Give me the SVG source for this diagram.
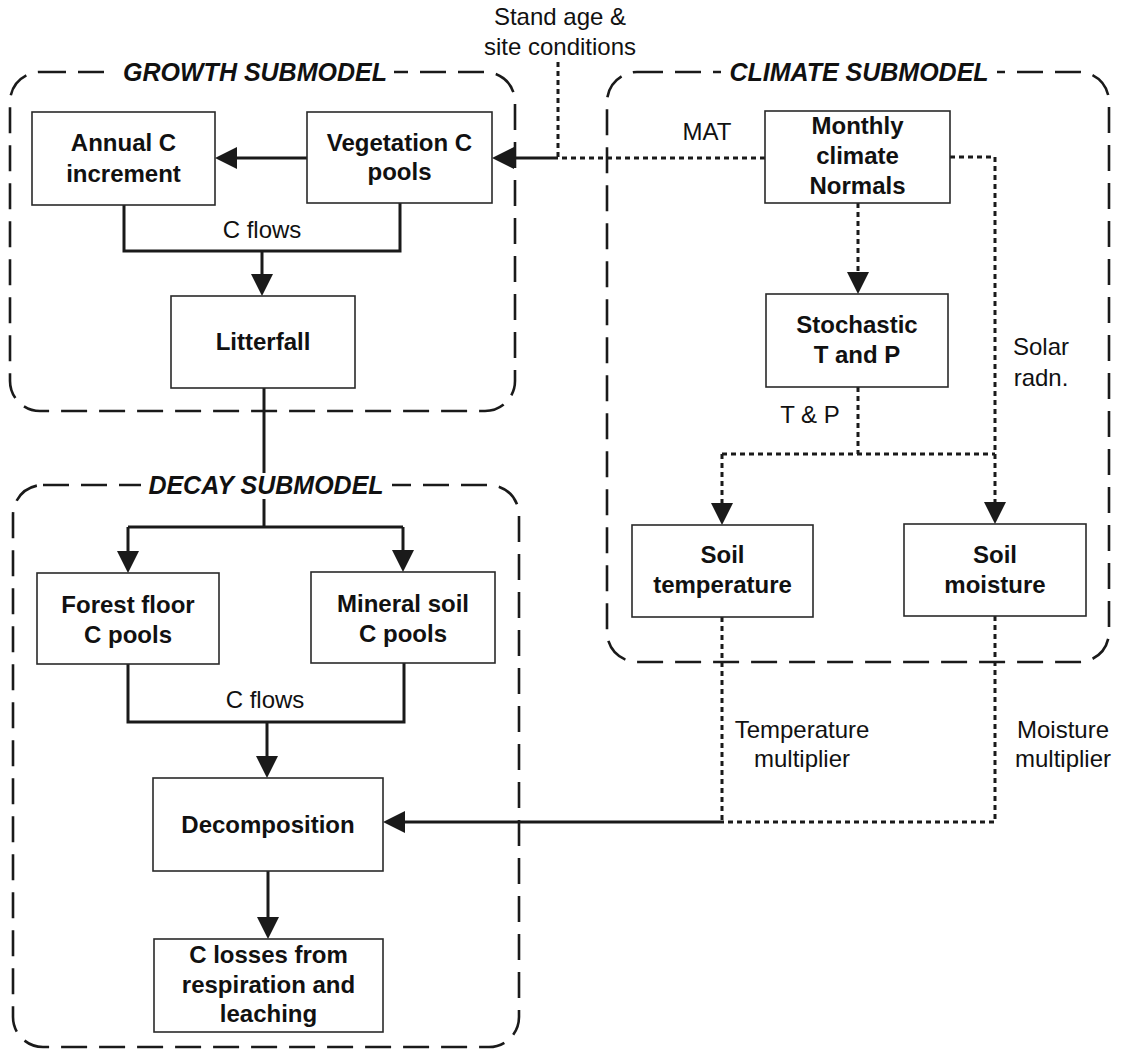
<svg xmlns="http://www.w3.org/2000/svg" width="1131" height="1055" viewBox="0 0 1131 1055">
  <defs>
    <style>
      .frame { fill: none; stroke: #1a1a1a; stroke-width: 2.6; stroke-dasharray: 26 12; }
      .title-bg { fill: #ffffff; }
      .title { font-family: "Liberation Sans", Arial, sans-serif; font-size: 25px; font-weight: bold; font-style: italic; fill: #111; text-anchor: middle; }
      .box { fill: #ffffff; stroke: #2a2a2a; stroke-width: 1.6; }
      .node-text { font-family: "Liberation Sans", Arial, sans-serif; font-size: 24px; font-weight: bold; fill: #111; text-anchor: middle; }
      .label { font-family: "Liberation Sans", Arial, sans-serif; font-size: 24px; fill: #111; text-anchor: middle; }
      .solid { fill: none; stroke: #1a1a1a; stroke-width: 3; }
      .dotted { fill: none; stroke: #1a1a1a; stroke-width: 3; stroke-dasharray: 5 4; }
    </style>
    <marker id="arrow" markerUnits="userSpaceOnUse" markerWidth="24" markerHeight="24" refX="11" refY="11" orient="auto">
      <path d="M0,0 L22,11 L0,22 Z" fill="#1a1a1a"/>
    </marker>
  </defs>

  <rect width="1131" height="1055" fill="#ffffff"/>

  <!-- Submodel frames -->
  <g id="frames">
    <rect id="growth-frame" class="frame" x="10" y="72" width="505" height="339" rx="30"/>
    <rect id="decay-frame" class="frame" x="13" y="485" width="506" height="562" rx="30"/>
    <rect id="climate-frame" class="frame" x="607" y="72" width="502" height="590" rx="30"/>
  </g>

  <!-- Connectors -->
  <g id="connectors">
    <!-- growth -->
    <path class="solid" d="M307 158 H226" marker-end="url(#arrow)"/>
    <path class="solid" d="M124 205 V251 H400 V203"/>
    <path class="solid" d="M262 251 V285" marker-end="url(#arrow)"/>
    <!-- litterfall into decay -->
    <path class="solid" d="M264 388 V527"/>
    <path class="solid" d="M128 527 H403"/>
    <path class="solid" d="M128 527 V562" marker-end="url(#arrow)"/>
    <path class="solid" d="M403 527 V561" marker-end="url(#arrow)"/>
    <!-- decay -->
    <path class="solid" d="M128 664 V722 H404 V663"/>
    <path class="solid" d="M267 722 V767" marker-end="url(#arrow)"/>
    <path class="solid" d="M268 871 V928" marker-end="url(#arrow)"/>
    <!-- multipliers into decomposition -->
    <path class="solid" d="M722 822 H394" marker-end="url(#arrow)"/>
    <path class="dotted" d="M722 617 V822"/>
    <path class="dotted" d="M995 616 V822 H722"/>
    <!-- stand age, MAT into vegetation pools -->
    <path class="dotted" d="M558 62 V158"/>
    <path class="dotted" d="M765 158 H558"/>
    <path class="solid" d="M558 158 H503" marker-end="url(#arrow)"/>
    <!-- climate -->
    <path class="dotted" d="M858 203 V283" marker-end="url(#arrow)"/>
    <path class="dotted" d="M950 157 H995 V513" marker-end="url(#arrow)"/>
    <path class="dotted" d="M858 387 V454"/>
    <path class="dotted" d="M722 454 H995"/>
    <path class="dotted" d="M722 454 V514" marker-end="url(#arrow)"/>
  </g>

  <!-- Connector labels -->
  <g id="labels">
    <text class="label" x="560" y="25">Stand age &amp;</text>
    <text class="label" x="560" y="55">site conditions</text>
    <text class="label" x="707" y="140">MAT</text>
    <text class="label" x="262" y="238">C flows</text>
    <text class="label" x="265" y="708">C flows</text>
    <text class="label" x="810" y="423">T &amp; P</text>
    <text class="label" x="1041" y="355">Solar</text>
    <text class="label" x="1041" y="386">radn.</text>
    <text class="label" x="802" y="738">Temperature</text>
    <text class="label" x="802" y="767">multiplier</text>
    <text class="label" x="1063" y="738">Moisture</text>
    <text class="label" x="1063" y="767">multiplier</text>
  </g>

  <!-- Submodel titles -->
  <g id="growth-title">
    <rect class="title-bg" x="116" y="60" width="278" height="26"/>
    <text class="title" x="255" y="81">GROWTH SUBMODEL</text>
  </g>
  <g id="decay-title">
    <rect class="title-bg" x="141" y="473" width="251" height="26"/>
    <text class="title" x="266" y="494">DECAY SUBMODEL</text>
  </g>
  <g id="climate-title">
    <rect class="title-bg" x="721" y="60" width="276" height="26"/>
    <text class="title" x="859" y="81">CLIMATE SUBMODEL</text>
  </g>

  <!-- Nodes -->
  <g id="annual-increment">
    <rect class="box" x="32" y="112" width="183" height="93"/>
    <text class="node-text" x="123.5" y="151">Annual C</text>
    <text class="node-text" x="123.5" y="182">increment</text>
  </g>
  <g id="vegetation-pools">
    <rect class="box" x="307" y="112" width="185" height="91"/>
    <text class="node-text" x="399.5" y="151">Vegetation C</text>
    <text class="node-text" x="399.5" y="180">pools</text>
  </g>
  <g id="litterfall">
    <rect class="box" x="171" y="296" width="184" height="92"/>
    <text class="node-text" x="263" y="350">Litterfall</text>
  </g>
  <g id="forest-floor-pools">
    <rect class="box" x="37" y="573" width="182" height="91"/>
    <text class="node-text" x="128" y="613">Forest floor</text>
    <text class="node-text" x="128" y="643">C pools</text>
  </g>
  <g id="mineral-soil-pools">
    <rect class="box" x="311" y="572" width="184" height="91"/>
    <text class="node-text" x="403" y="612">Mineral soil</text>
    <text class="node-text" x="403" y="642">C pools</text>
  </g>
  <g id="decomposition">
    <rect class="box" x="153" y="778" width="230" height="93"/>
    <text class="node-text" x="268" y="833">Decomposition</text>
  </g>
  <g id="c-losses">
    <rect class="box" x="154" y="939" width="229" height="93"/>
    <text class="node-text" x="268.5" y="963">C losses from</text>
    <text class="node-text" x="268.5" y="993">respiration and</text>
    <text class="node-text" x="268.5" y="1022">leaching</text>
  </g>
  <g id="climate-normals">
    <rect class="box" x="765" y="111" width="185" height="92"/>
    <text class="node-text" x="857.5" y="134">Monthly</text>
    <text class="node-text" x="857.5" y="164">climate</text>
    <text class="node-text" x="857.5" y="194">Normals</text>
  </g>
  <g id="stochastic-tp">
    <rect class="box" x="766" y="294" width="182" height="93"/>
    <text class="node-text" x="857" y="333">Stochastic</text>
    <text class="node-text" x="857" y="363">T and P</text>
  </g>
  <g id="soil-temperature">
    <rect class="box" x="632" y="525" width="181" height="92"/>
    <text class="node-text" x="722.5" y="563">Soil</text>
    <text class="node-text" x="722.5" y="593">temperature</text>
  </g>
  <g id="soil-moisture">
    <rect class="box" x="904" y="524" width="182" height="92"/>
    <text class="node-text" x="995" y="563">Soil</text>
    <text class="node-text" x="995" y="593">moisture</text>
  </g>
</svg>
